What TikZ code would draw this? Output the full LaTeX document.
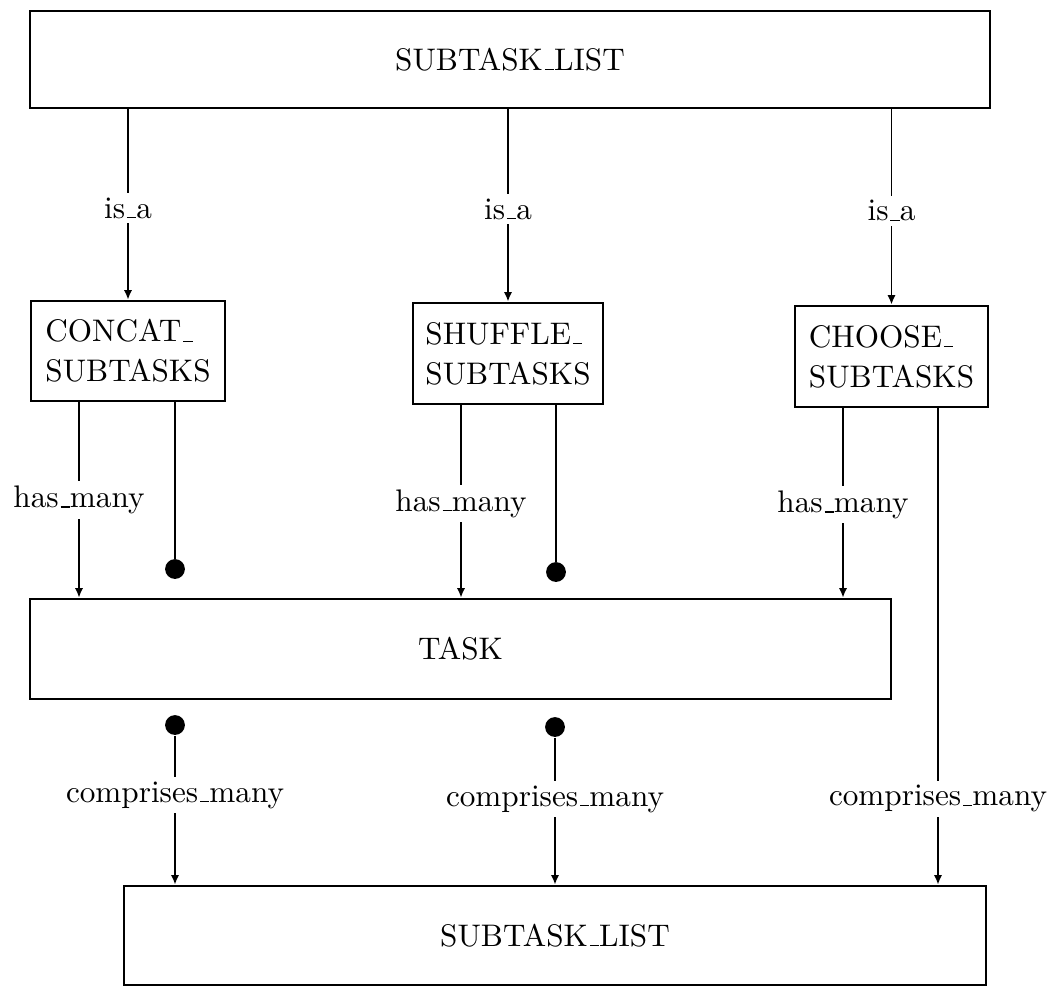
\documentclass[tikz,border=0pt]{standalone}
\usetikzlibrary{arrows.meta}
\newcommand{\us}{\leavevmode\kern.06em\vbox{\hrule width.3em}}
\begin{document}
\begin{tikzpicture}[x=0.3333pt, y=-0.3333pt,
  every node/.style={font=\fontsize{10.4}{13.3}\selectfont},
  box/.style={draw, line width=0.9pt, inner sep=0pt},
  wire/.style={line width=0.65pt},
  arr/.style={wire, -{Latex[length=3.2pt,width=2.8pt]}},
  lbl/.style={fill=white, inner sep=1.5pt},
  dot/.style={circle, fill, inner sep=0pt, minimum size=6.6pt}]
\useasboundingbox (0,0) rectangle (1061,988);
% boxes
\node[box, minimum width=320pt, minimum height=32.3pt] (top) at (510,59.5) {SUBTASK\us LIST};
\node[box, minimum width=64.7pt, minimum height=33.3pt, align=left] (concat) at (128,351) {CONCAT\us\\SUBTASKS};
\node[box, minimum width=63.3pt, minimum height=33.7pt, align=left] (shuffle) at (508,353.5) {SHUFFLE\us\\SUBTASKS};
\node[box, minimum width=64.3pt, minimum height=33.7pt, align=left] (choose) at (891.5,356.5) {CHOOSE\us\\SUBTASKS};
\node[box, minimum width=287pt, minimum height=33.3pt] (task) at (460.5,649) {TASK};
\node[box, minimum width=287.3pt, minimum height=33pt] (bottom) at (555,935.5) {SUBTASK\us LIST};
% dots
\node[dot] (d1) at (175,569) {};
\node[dot] (d2) at (556,572) {};
\node[dot] (d3) at (175,725) {};
\node[dot] (d4) at (555,727) {};
% column coordinates
\coordinate (xa) at (79,0);
\coordinate (xb) at (461,0);
\coordinate (xc) at (843,0);
\coordinate (xr) at (938,0);
% is_a
\draw[arr] (top.south -| concat.north) -- node[lbl,pos=0.52]{is\us a} (concat.north);
\draw[arr] (top.south -| shuffle.north) -- node[lbl,pos=0.52]{is\us a} (shuffle.north);
\draw[arr] (top.south -| choose.north) -- node[lbl,pos=0.52]{is\us a} (choose.north);
% has_many
\draw[arr] (concat.south -| xa) -- node[lbl,pos=0.5]{has\us many} (task.north -| xa);
\draw[arr] (shuffle.south -| xb) -- node[lbl,pos=0.51]{has\us many} (task.north -| xb);
\draw[arr] (choose.south -| xc) -- node[lbl,pos=0.51]{has\us many} (task.north -| xc);
% dot lines
\draw[wire] (concat.south -| d1) -- (d1);
\draw[wire] (shuffle.south -| d2) -- (d2);
% comprises_many
\draw[arr] (d3) -- node[lbl,pos=0.40]{comprises\us many} (bottom.north -| d3);
\draw[arr] (d4) -- node[lbl,pos=0.42]{comprises\us many} (bottom.north -| d4);
\draw[arr] (choose.south -| xr) -- node[lbl,pos=0.82]{comprises\us many} (bottom.north -| xr);
\end{tikzpicture}
\end{document}
